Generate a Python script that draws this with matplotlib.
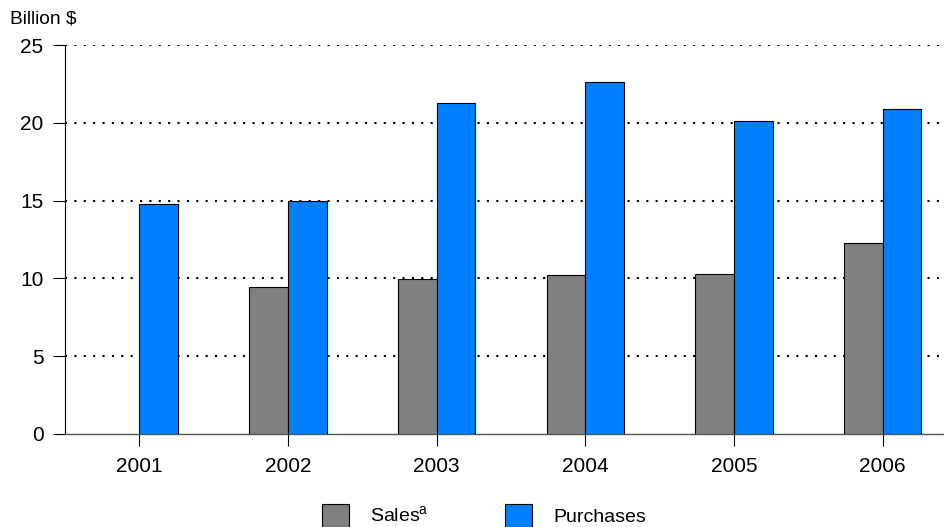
import numpy as np
import matplotlib
matplotlib.use('Agg')
from matplotlib import pyplot as plt

years = ['2001', '2002', '2003', '2004', '2005', '2006']
sales = [0, 9.45, 9.95, 10.2, 10.3, 12.3]
purchases = [14.8, 15.0, 21.3, 22.6, 20.1, 20.9]

plt.rcParams['font.family'] = ['Liberation Sans', 'DejaVu Sans']
plt.rcParams['mathtext.fontset'] = 'custom'
plt.rcParams['mathtext.rm'] = 'Liberation Sans'

fig = plt.figure(figsize=(9.45, 5.27), dpi=100)
ax = fig.add_axes([0.0688, 0.1765, 0.9312, 0.7381])

x = np.arange(len(years))
w = 0.26
sales_plot = [v if v > 0 else np.nan for v in sales]
ax.bar(x, sales_plot, width=-w, align='edge', color='#808080', edgecolor='black',
       linewidth=0.8, label='Sales$^{\\mathrm{a}}$', zorder=3)
ax.bar(x, purchases, width=w, align='edge', color='#0080FF', edgecolor='black',
       linewidth=0.8, label='Purchases', zorder=3)

ax.set_xlim(-0.5, 5.42)
ax.set_ylim(0, 25)
ax.set_yticks([0, 5, 10, 15, 20, 25])
ax.set_xticks(x)
ax.set_xticklabels(years)
ax.tick_params(axis='both', labelsize=15, direction='out', length=8.5, width=0.8)
ax.tick_params(axis='x', pad=8)
ax.tick_params(axis='y', pad=7)

for y in [5, 10, 15, 20, 25]:
    ax.axhline(y, color='black', linestyle=(0, (1, 3.5)), linewidth=1.5, zorder=1)

ax.spines['top'].set_visible(False)
ax.spines['right'].set_visible(False)
ax.spines['left'].set_linewidth(0.8)
ax.spines['bottom'].set_color('#555555')
ax.spines['bottom'].set_linewidth(1.0)

fig.text(0.0106, 0.955, 'Billion $', fontsize=13.8)

fig.legend(loc='center', bbox_to_anchor=(0.512, 0.022), ncol=2, frameon=False,
           fontsize=14, handlelength=1.4, handleheight=1.4, columnspacing=3.9,
           handletextpad=1.1, borderpad=0)

plt.savefig('out.png', dpi=100)
